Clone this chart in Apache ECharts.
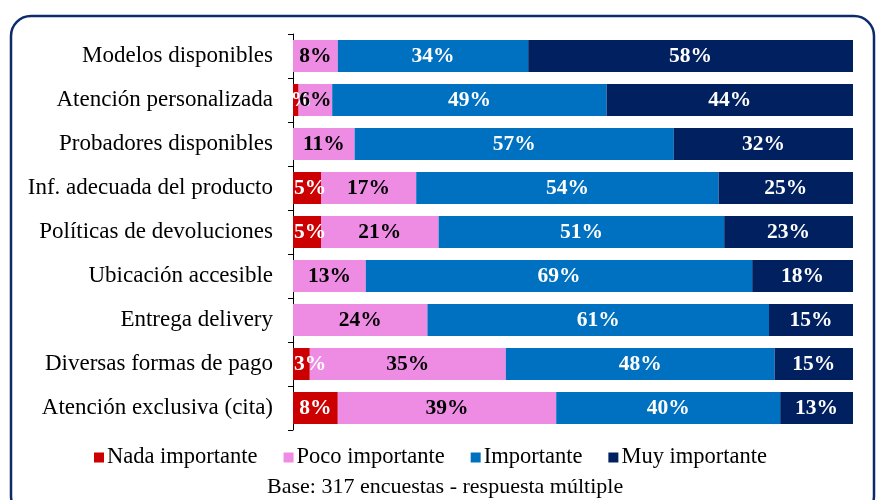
<!DOCTYPE html>
<html>
<head>
<meta charset="utf-8">
<script src="https://cdn.jsdelivr.net/npm/echarts@6/dist/echarts.min.js"></script>
<style>
  html, body { margin: 0; padding: 0; background: #fff; }
  #chart { width: 876px; height: 500px; }
</style>
</head>
<body>
<div id="chart"></div>
<script>
// Factores valorados por los clientes (porcentaje de respuestas)
const categories = [
  'Modelos disponibles',
  'Atención personalizada',
  'Probadores disponibles',
  'Inf. adecuada del producto',
  'Políticas de devoluciones',
  'Ubicación accesible',
  'Entrega delivery',
  'Diversas formas de pago',
  'Atención exclusiva (cita)'
];
const nadaImportante = [0, 1, 0, 5, 5, 0, 0, 3, 8];
const pocoImportante = [8, 6, 11, 17, 21, 13, 24, 35, 39];
const importante     = [34, 49, 57, 54, 51, 69, 61, 48, 40];
const muyImportante  = [58, 44, 32, 25, 23, 18, 15, 15, 13];
const footnote = 'Base: 317 encuestas - respuesta múltiple';

const serif = '"Liberation Serif", "Times New Roman", "DejaVu Serif", serif';

// Narrow first segments keep their label inside the plot, starting at the bar's left edge.
function itemsFor(data, leftAlignSmall) {
  return data.map(v => {
    if (leftAlignSmall && v > 1 && v < 6) {
      return { value: v, label: { position: 'insideLeft', distance: 1 } };
    }
    return v;
  });
}

function makeSeries(name, data, color, labelColor, leftAlignSmall) {
  return {
    name: name,
    type: 'bar',
    stack: 'total',
    data: itemsFor(data, leftAlignSmall),
    barWidth: 32,
    itemStyle: { color: color },
    label: {
      show: true,
      position: 'inside',
      color: labelColor,
      fontFamily: serif,
      fontWeight: 'bold',
      fontSize: 21.5,
      formatter: p => (p.value ? p.value + '%' : '')
    }
  };
}

const chart = echarts.init(document.getElementById('chart'), null, { renderer: 'canvas' });
chart.setOption({
  animation: false,
  backgroundColor: '#ffffff',
  textStyle: { fontFamily: serif },
  graphic: [
    {
      type: 'rect',
      z: -10,
      shape: { x: 11, y: 16, width: 863, height: 500, r: 20 },
      style: { fill: 'none', stroke: '#0d2b6b', lineWidth: 2.5 }
    },
    {
      type: 'text',
      left: 267,
      top: 476,
      style: {
        text: footnote,
        fontFamily: serif,
        fontSize: 22,
        fill: '#000'
      }
    }
  ],
  legend: {
    left: 89,
    top: 441,
    itemWidth: 10,
    itemHeight: 10,
    itemGap: 26,
    icon: 'rect',
    textStyle: { fontFamily: serif, fontSize: 22.5, color: '#000', padding: [0, 0, 0, -2] },
    data: ['Nada importante', 'Poco importante', 'Importante', 'Muy importante']
  },
  grid: { left: 293, right: 23, top: 34, bottom: 70, containLabel: false },
  xAxis: {
    type: 'value',
    min: 0,
    max: 100,
    show: false
  },
  yAxis: {
    type: 'category',
    inverse: true,
    data: categories,
    axisLine: { show: true, lineStyle: { color: '#000', width: 1 } },
    axisTick: { show: true, length: 5, lineStyle: { color: '#000' } },
    axisLabel: {
      margin: 20,
      color: '#000',
      fontFamily: serif,
      fontSize: 23
    },
    splitLine: { show: false }
  },
  series: [
    makeSeries('Nada importante', nadaImportante, '#cc0000', '#ffffff', true),
    makeSeries('Poco importante', pocoImportante, '#ee8ce4', '#000000', false),
    makeSeries('Importante', importante, '#0070c0', '#ffffff', false),
    makeSeries('Muy importante', muyImportante, '#002060', '#ffffff', false)
  ]
});
</script>
</body>
</html>
